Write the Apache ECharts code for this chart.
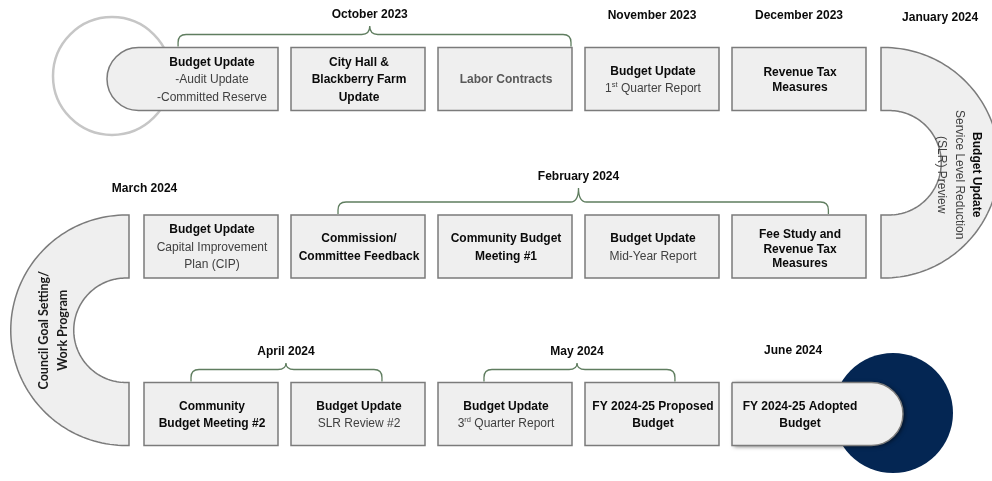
<!DOCTYPE html>
<html><head><meta charset="utf-8">
<script src="https://cdn.jsdelivr.net/npm/echarts@6/dist/echarts.min.js"></script>
<style>html,body{margin:0;padding:0;background:#fff}#c{width:992px;height:481px}</style>
</head><body><div id="c"></div>
<script>
// ---------- DATA ----------
// Timeline steps, in reading order along the path (column / row on the board)
const stepCol = [0, 1, 2, 3, 4,   4, 3, 2, 1, 0,   0, 1, 2, 3, 4];
const stepRow = [0, 0, 0, 0, 0,   1, 1, 1, 1, 1,   2, 2, 2, 2, 2];
const stepTitles = [
  ['Budget Update'], ['City Hall &', 'Blackberry Farm', 'Update'], ['Labor Contracts'], ['Budget Update'], ['Revenue Tax', 'Measures'],
  ['Fee Study and', 'Revenue Tax', 'Measures'], ['Budget Update'], ['Community Budget', 'Meeting #1'], ['Commission/', 'Committee Feedback'], ['Budget Update'],
  ['Community', 'Budget Meeting #2'], ['Budget Update'], ['Budget Update'], ['FY 2024-25 Proposed', 'Budget'], ['FY 2024-25 Adopted', 'Budget']
];
const stepDetails = [
  ['-Audit Update', '-Committed Reserve'], [], [], ['1{sup|st} Quarter Report'], [],
  [], ['Mid-Year Report'], [], [], ['Capital Improvement', 'Plan (CIP)'],
  [], ['SLR Review #2'], ['3{sup|rd} Quarter Report'], [], []
];
// Turns of the path (between row k and row k+1)
const turnFromRow = [0, 1];
const turnTitles = [['Budget Update'], ['Council Goal Setting/', 'Work Program']];
const turnDetails = [['Service Level Reduction', '(SLR) Preview'], []];
// Month labels (position in column / row units) and braces spanning columns
const months    = ['October 2023', 'November 2023', 'December 2023', 'January 2024', 'February 2024', 'March 2024', 'April 2024', 'May 2024', 'June 2024'];
const monthX    = [1.08, 3.0, 4.0, 4.96, 2.5, -0.452, 0.51, 2.49, 3.96];
const monthY    = [-0.382, -0.376, -0.376, -0.364, 0.585, 0.657, 1.63, 1.63, 1.624];
const braceFrom = [-0.224, null, null, null, 0.864, null, -0.136, 1.857, null];
const braceTo   = [2.449, null, null, null, 4.2, null, 1.163, 3.156, null];

// ---------- RENDER ----------
const FONT = '"Liberation Sans", Arial, Helvetica, sans-serif';
const BOX_W = 134, BOX_H = 63, CAP = 37, GAP = 15;
const FILL = '#efefef', STROKE = '#7b7b7b';
const nLast = stepTitles.length - 1;

function detailRich(d) {
  return d.split(/(\{sup\|[^}]*\})/).filter(s => s).map(s => s.startsWith('{sup|') ? s : '{n|' + s + '}').join('');
}
function richText(titles, details, titleStyle) {
  return titles.map(t => '{' + titleStyle + '|' + t + '}').concat(details.map(detailRich)).join('\n');
}
const RICH = {
  b: {fontFamily: FONT, fontWeight: 'bold', fontSize: 12, fill: '#0a0a0a', lineHeight: 17.5},
  t: {fontFamily: FONT, fontWeight: 'bold', fontSize: 12, fill: '#0a0a0a', lineHeight: 14.5},
  g: {fontFamily: FONT, fontWeight: 'bold', fontSize: 12, fill: '#585858', lineHeight: 17.5},
  n: {fontFamily: FONT, fontSize: 12, fill: '#404040', lineHeight: 17.5},
  sup: {fontFamily: FONT, fontSize: 7.5, fill: '#404040', lineHeight: 17.5, verticalAlign: 'top', padding: [1, 0, 0, 0]},
  c: {fontFamily: 'Lato, "Open Sans", sans-serif', fontWeight: 'bold', fontSize: 12.5, fill: '#1a1a1a', lineHeight: 19}
};

const chart = echarts.init(document.getElementById('c'), null, {renderer: 'canvas'});

const stepData = stepTitles.map((t, i) => [stepCol[i], stepRow[i], i]);

const option = {
  animation: false,
  grid: {left: 211, top: 79, width: 588, height: 335},
  xAxis: {type: 'value', min: 0, max: 4, show: false},
  yAxis: {type: 'value', min: 0, max: 2, inverse: true, show: false},
  series: [
    // start ring & end disk
    {
      type: 'custom', clip: false, z: 1,
      data: [stepData[0], stepData[nLast]],
      encode: {x: 0, y: 1},
      renderItem(params, api) {
        const p = api.coord([api.value(0), api.value(1)]);
        const i = api.value(2);
        if (i === 0) {
          const x0 = p[0] - BOX_W / 2 - CAP;
          return {type: 'circle', shape: {cx: x0 + 5, cy: p[1] - 3, r: 59},
            style: {fill: '#fff', stroke: '#c6c6c6', lineWidth: 2.5}};
        }
        const x1 = p[0] + BOX_W / 2 + CAP;
        return {type: 'circle', shape: {cx: x1 - 10, cy: p[1] - 1, r: 60},
          style: {fill: '#042653'}};
      }
    },
    // turns
    {
      type: 'custom', clip: false, z: 2,
      data: turnFromRow.map((r, i) => [r % 2 === 0 ? 4 : 0, r, i]),
      encode: {x: 0, y: 1},
      renderItem(params, api) {
        const col = api.value(0), row = api.value(1), i = api.value(2);
        const a = api.coord([col, row]), b = api.coord([col, row + 1]);
        const right = col === 4;
        const edge = right ? a[0] + BOX_W / 2 + GAP : a[0] - BOX_W / 2 - GAP;
        const cx = right ? edge + 3 : edge - 3;
        const cxIn = right ? edge + 8 : edge - 3;
        const cy = (a[1] + b[1]) / 2;
        const half = (b[1] - a[1]) / 2;
        const R = half + BOX_H / 2, r = half - BOX_H / 2;
        const dir = right ? 1 : -1;
        const pts = [[edge, cy - R]];
        const N = 90;
        for (let k = 0; k <= N; k++) {
          const th = -Math.PI / 2 + Math.PI * k / N;
          pts.push([cx + dir * R * Math.cos(th), cy + R * Math.sin(th)]);
        }
        pts.push([edge, cy + R], [edge, cy + r]);
        for (let k = N; k >= 0; k--) {
          const th = -Math.PI / 2 + Math.PI * k / N;
          pts.push([cxIn + dir * r * Math.cos(th), cy + r * Math.sin(th)]);
        }
        pts.push([edge, cy - r]);
        const txt = right
          ? richText(turnTitles[i], turnDetails[i], 'b')
          : turnTitles[i].map(t => '{c|' + t + '}').join('\n');
        return {type: 'group', children: [
          {type: 'polygon', shape: {points: pts}, style: {fill: FILL, stroke: STROKE, lineWidth: 1.5}},
          {type: 'text', x: right ? cx + 75 : cx - 73, y: right ? cy + 12 : cy,
            rotation: right ? -Math.PI / 2 : Math.PI / 2,
            style: {text: txt, x: 0, y: 0, align: 'center', verticalAlign: 'middle', rich: RICH}}
        ]};
      }
    },
    // step boxes
    {
      type: 'custom', clip: false, z: 3,
      data: stepData,
      encode: {x: 0, y: 1},
      renderItem(params, api) {
        const p = api.coord([api.value(0), api.value(1)]);
        const i = api.value(2);
        let x = p[0] - BOX_W / 2, w = BOX_W, rr = 0;
        const y = p[1] - BOX_H / 2;
        const children = [];
        if (i === 0) { x -= CAP; w += CAP; rr = [BOX_H / 2, 0, 0, BOX_H / 2]; }
        if (i === nLast) {
          w += CAP; rr = [0, BOX_H / 2, BOX_H / 2, 0];
          children.push({type: 'rect', shape: {x, y, width: w, height: BOX_H, r: rr},
            style: {fill: '#888', shadowBlur: 4, shadowColor: 'rgba(0,0,0,0.55)', shadowOffsetX: 2, shadowOffsetY: 1}});
        }
        const titles = stepTitles[i];
        const titleStyle = titles[0] === 'Labor Contracts' ? 'g' : (titles.includes('Revenue Tax') ? 't' : 'b');
        const dy = titleStyle === 't' ? (titles.length > 2 ? 3 : 1) : 1;
        children.push(
          {type: 'rect', shape: {x, y, width: w, height: BOX_H, r: rr}, style: {fill: FILL, stroke: STROKE, lineWidth: 1.5}},
          {type: 'text', x: p[0] + 1, y: p[1] + dy,
            style: {text: richText(titles, stepDetails[i], titleStyle), x: 0, y: 0,
              align: 'center', verticalAlign: 'middle', rich: RICH}}
        );
        return {type: 'group', children};
      }
    },
    // month labels & braces
    {
      type: 'custom', clip: false, z: 4,
      data: months.map((m, i) => [monthX[i], monthY[i], i]),
      encode: {x: 0, y: 1},
      renderItem(params, api) {
        const i = api.value(2);
        const p = api.coord([api.value(0), api.value(1)]);
        const children = [
          {type: 'text', x: p[0], y: p[1],
            style: {text: months[i], x: 0, y: 0, align: 'center', verticalAlign: 'middle',
              fontFamily: FONT, fontWeight: 'bold', fontSize: 12, fill: '#0a0a0a'}}
        ];
        if (braceFrom[i] !== null) {
          const row = Math.ceil(monthY[i]);
          const rc = api.coord([0, row]);
          const boxTop = rc[1] - BOX_H / 2;
          const x1 = api.coord([braceFrom[i], row])[0];
          const x2 = api.coord([braceTo[i], row])[0];
          const xp = p[0];
          const yEnd = boxTop - 1, yH = boxTop - 13, yP = p[1] + 11, k = 8;
          const d = `M${x1},${yEnd} L${x1},${yH + k} Q${x1},${yH} ${x1 + k},${yH} L${xp - k},${yH} Q${xp},${yH} ${xp},${yP} ` +
                    `Q${xp},${yH} ${xp + k},${yH} L${x2 - k},${yH} Q${x2},${yH} ${x2},${yH + k} L${x2},${yEnd}`;
          children.push({type: 'path', shape: {pathData: d},
            style: {fill: null, stroke: '#5f7d5f', lineWidth: 1.3}});
        }
        return {type: 'group', children};
      }
    }
  ]
};
chart.setOption(option);
</script>
</body></html>
